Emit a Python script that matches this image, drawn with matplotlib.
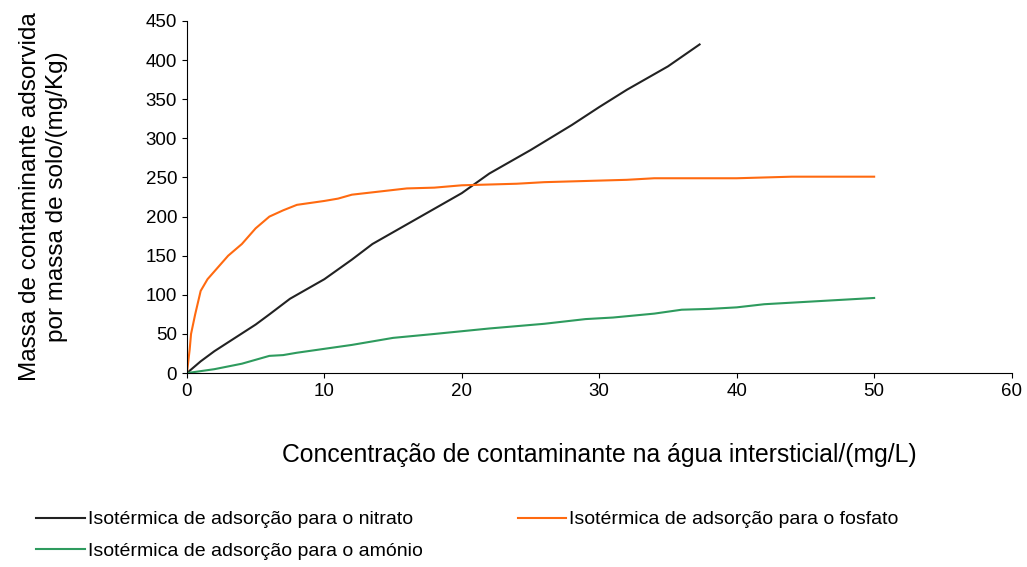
import matplotlib
matplotlib.use("Agg")
import matplotlib.pyplot as plt

plt.rcParams["font.family"] = ["Liberation Sans", "DejaVu Sans"]

# Nitrate isotherm
nit_x = [0, 1, 2, 5, 6, 7.5, 10, 12, 13.5, 15.5, 17, 20, 22, 25, 28, 30, 32, 35, 37.3]
nit_y = [0, 15, 28, 62, 75, 95, 120, 145, 165, 185, 200, 230, 255, 285, 317, 340, 362, 392, 420]

# Phosphate isotherm
fos_x = [0, 0.2, 0.3, 0.6, 0.8, 1, 1.5, 2, 3, 4, 5, 6, 7, 8, 10, 11, 12, 14, 16, 18, 20, 22, 24, 26, 30, 32, 34, 40, 44, 50]
fos_y = [0, 30, 50, 75, 90, 105, 120, 130, 150, 165, 185, 200, 208, 215, 220, 223, 228, 232, 236, 237, 240, 241, 242, 244, 246, 247, 249, 249, 251, 251]

# Ammonium isotherm
amo_x = [0, 2, 4, 5, 6, 7, 8, 10, 12, 15, 18, 22, 26, 29, 31, 34, 36, 38, 40, 42, 45, 50]
amo_y = [0, 5, 12, 17, 22, 23, 26, 31, 36, 45, 50, 57, 63, 69, 71, 76, 81, 82, 84, 88, 91, 96]

fig = plt.figure(figsize=(10.27, 5.67), dpi=100)
ax = fig.add_axes([0.182, 0.342, 0.803, 0.621])

l1, = ax.plot(nit_x, nit_y, color="#222222", lw=1.5, label="Isotérmica de adsorção para o nitrato")
l2, = ax.plot(fos_x, fos_y, color="#FF6A10", lw=1.5, label="Isotérmica de adsorção para o fosfato")
l3, = ax.plot(amo_x, amo_y, color="#2E9B5E", lw=1.5, label="Isotérmica de adsorção para o amónio")

ax.set_xlim(0, 60)
ax.set_ylim(0, 450)
ax.set_xticks(range(0, 61, 10))
ax.set_yticks(range(0, 451, 50))
ax.spines["top"].set_visible(False)
ax.spines["right"].set_visible(False)
ax.tick_params(labelsize=13.5, direction="out")
ax.set_xlabel("Concentração de contaminante na água intersticial/(mg/L)", fontsize=17.8, labelpad=31)
ax.set_ylabel("Massa de contaminante adsorvida\npor massa de solo/(mg/Kg)", fontsize=17.5,
              labelpad=56, linespacing=1.3)

fig.legend(handles=[l1, l3, l2], loc="upper left", bbox_to_anchor=(0.018, 0.13),
           ncol=2, frameon=False, fontsize=14, handlelength=2.5,
           columnspacing=4.9, handletextpad=0.15, labelspacing=0.7)

fig.savefig("out.png", dpi=100)
